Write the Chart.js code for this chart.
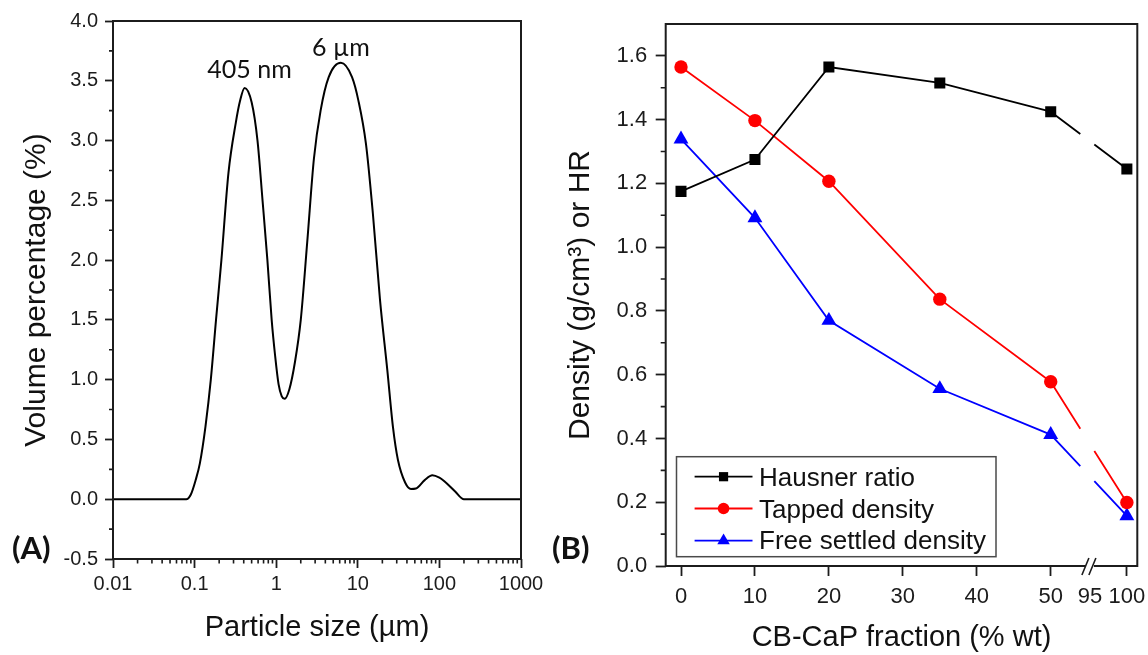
<!DOCTYPE html>
<html><head><meta charset="utf-8">
<script src="https://cdn.jsdelivr.net/npm/chart.js@4.4.0/dist/chart.umd.min.js"></script>
<style>
html,body{margin:0;padding:0;background:#fff;width:1148px;height:655px;overflow:hidden;}
#wa{position:absolute;left:0;top:0;width:545px;height:655px;}
#wb{position:absolute;left:545px;top:0;width:603px;height:655px;}
canvas{display:block;}
</style></head><body>
<div id="wa"><canvas id="ca" width="545" height="655"></canvas></div>
<div id="wb"><canvas id="cb" width="603" height="655"></canvas></div>
<script>
// ---------- Panel A data ----------
const particleSizes = [0.01, 0.079, 0.09, 0.103, 0.116, 0.136, 0.158, 0.183, 0.213, 0.26, 0.32, 0.36, 0.41, 0.5, 0.59, 0.68, 0.78, 0.88, 0.97, 1.07, 1.17, 1.27, 1.45, 1.7, 2.0, 2.4, 2.9, 3.5, 4.4, 6.2, 8.5, 10.2, 12.6, 15.3, 18.7, 23, 27, 31, 38, 44.8, 51.5, 66, 82, 100, 115, 156, 200, 1000];
const volumePercent = [0, 0, 0.04, 0.16, 0.30, 0.61, 1.0, 1.5, 2.0, 2.73, 3.15, 3.33, 3.44, 3.32, 3.0, 2.5, 2.0, 1.5, 1.2, 0.96, 0.86, 0.84, 0.92, 1.15, 1.5, 2.15, 2.85, 3.25, 3.53, 3.65, 3.53, 3.33, 2.97, 2.39, 1.67, 1.08, 0.60, 0.33, 0.14, 0.086, 0.09, 0.16, 0.20, 0.18, 0.15, 0.065, 0, 0];
const xTicksA = [0.01, 0.1, 1, 10, 100, 1000];
const xTickLabelsA = ["0.01", "0.1", "1", "10", "100", "1000"];
const xMinorA = [2,3,4,5,6,7,8,9].flatMap(m => [0.01, 0.1, 1, 10, 100].map(d => m * d));
const yTicksA = [-0.5, 0, 0.5, 1, 1.5, 2, 2.5, 3, 3.5, 4];
const yTickLabelsA = ["-0.5", "0.0", "0.5", "1.0", "1.5", "2.0", "2.5", "3.0", "3.5", "4.0"];
const yMinorA = [-0.25, 0.25, 0.75, 1.25, 1.75, 2.25, 2.75, 3.25, 3.75];
const peakLabels = ["405 nm", "6 µm"];
const peakSizes = [0.471, 6.2];
const peakLabelLevels = [3.52, 3.71];

// ---------- Panel B data ----------
const fractions = [0, 10, 20, 35, 50, 100];
const hausnerRatio = [1.175, 1.275, 1.565, 1.515, 1.425, 1.245];
const tappedDensity = [1.565, 1.397, 1.207, 0.837, 0.578, 0.199];
const freeSettledDensity = [1.339, 1.092, 0.770, 0.556, 0.412, 0.157];
const seriesNames = ["Hausner ratio", "Tapped density", "Free settled density"];
const xTicksB = [0, 10, 20, 30, 40, 50, 95, 100];
const xTickLabelsB = ["0", "10", "20", "30", "40", "50", "95", "100"];
const yTicksB = [0, 0.2, 0.4, 0.6, 0.8, 1.0, 1.2, 1.4, 1.6];
const yTickLabelsB = ["0.0", "0.2", "0.4", "0.6", "0.8", "1.0", "1.2", "1.4", "1.6"];
const yMinorB = [0.1, 0.3, 0.5, 0.7, 0.9, 1.1, 1.3, 1.5];

// broken x axis: values above the break are shifted left
const BREAK_AT = 50, BREAK_SHIFT = 39.7;
const toAxis = v => v > BREAK_AT ? v - BREAK_SHIFT : v;
const GAP0 = 54.0, GAP1 = 55.9;   // axis units of the line gap at the break

const FONT = "'Liberation Sans', Arial, sans-serif";
const AXC = '#1c1c1c';

// ---------- plugins ----------
const framePlugin = {
  id: 'frame',
  afterDraw(chart) {
    const {ctx, chartArea: a} = chart;
    ctx.save(); ctx.strokeStyle = AXC; ctx.lineWidth = 2;
    ctx.strokeRect(a.left, a.top, a.right - a.left, a.bottom - a.top);
    ctx.restore();
  }
};
const minorPlugin = {
  id: 'minorTicks',
  afterDraw(chart, args, o) {
    const {ctx, chartArea: a, scales} = chart;
    ctx.save(); ctx.strokeStyle = AXC; ctx.lineWidth = 1.6; ctx.beginPath();
    (o.x || []).forEach(v => { const p = scales.x.getPixelForValue(v); ctx.moveTo(p, a.bottom); ctx.lineTo(p, a.bottom + o.xLen); });
    (o.y || []).forEach(v => { const p = scales.y.getPixelForValue(v); ctx.moveTo(a.left, p); ctx.lineTo(a.left - o.yLen, p); });
    ctx.stroke(); ctx.restore();
  }
};
const textPlugin = {
  id: 'texts',
  afterDraw(chart, args, o) {
    const {ctx, scales} = chart;
    ctx.save();
    (o.items || []).forEach(t => {
      ctx.font = t.font; ctx.fillStyle = '#111';
      ctx.textAlign = t.align || 'left'; ctx.textBaseline = t.baseline || 'alphabetic';
      const x = t.dataX !== undefined ? scales.x.getPixelForValue(t.dataX) : t.x;
      const y = t.dataY !== undefined ? scales.y.getPixelForValue(t.dataY) : t.y;
      ctx.fillText(t.text, x, y);
    });
    ctx.restore();
  }
};
function marker(ctx, style, x, y, r, color) {
  ctx.fillStyle = color; ctx.beginPath();
  if (style === 'rect') { const s = r * Math.SQRT1_2; ctx.rect(x - s, y - s, 2 * s, 2 * s); }
  else if (style === 'circle') { ctx.arc(x, y, r, 0, Math.PI * 2); }
  else if (style === 'triangle') {
    ctx.moveTo(x, y - r); ctx.lineTo(x + r * Math.sin(Math.PI * 2 / 3), y - r * Math.cos(Math.PI * 2 / 3));
    ctx.lineTo(x + r * Math.sin(Math.PI * 4 / 3), y - r * Math.cos(Math.PI * 4 / 3)); ctx.closePath();
  }
  ctx.fill();
}
const legendPlugin = {
  id: 'boxLegend',
  afterDraw(chart, args, o) {
    const {ctx} = chart;
    ctx.save();
    ctx.strokeStyle = '#4a4a4a'; ctx.lineWidth = 1.5;
    ctx.strokeRect(o.x, o.y, o.w, o.h);
    chart.data.datasets.forEach((ds, i) => {
      const cy = o.rowY[i];
      ctx.strokeStyle = ds.borderColor; ctx.lineWidth = ds.borderWidth;
      ctx.beginPath(); ctx.moveTo(o.lx0, cy); ctx.lineTo(o.lx1, cy); ctx.stroke();
      marker(ctx, ds.pointStyle, (o.lx0 + o.lx1) / 2, cy, o.r[i], ds.backgroundColor);
      ctx.font = o.font; ctx.fillStyle = '#111'; ctx.textAlign = 'left'; ctx.textBaseline = 'alphabetic';
      ctx.fillText(ds.label, o.tx, o.baseY[i]);
    });
    ctx.restore();
  }
};
const breakPlugin = {
  id: 'axisBreak',
  afterDraw(chart, args, o) {
    const {ctx, chartArea: a, scales} = chart;
    const cx = scales.x.getPixelForValue(o.at);
    const y = a.bottom;
    ctx.save();
    ctx.fillStyle = '#fff'; ctx.fillRect(cx - 4, y - 3, 8, 6);
    ctx.strokeStyle = AXC; ctx.lineWidth = 1.6; ctx.beginPath();
    ctx.moveTo(cx - 8, y + 9); ctx.lineTo(cx - 1, y - 8);
    ctx.moveTo(cx - 1, y + 9); ctx.lineTo(cx + 6, y - 8);
    ctx.stroke(); ctx.restore();
  }
};

function fixBox(w, h) {
  return s => {
    if (w !== undefined) s.width = w;
    if (h !== undefined) s.height = h;
    s.paddingLeft = 0; s.paddingRight = 0; s.paddingTop = 0; s.paddingBottom = 0;
  };
}
const tickFontA = {family: FONT, size: 20};
const tickFontB = {family: FONT, size: 22};
const xTitleFont = {family: FONT, size: 29};
const yTitleFont = {family: FONT, size: 30};

// ---------- Chart A ----------
new Chart(document.getElementById('ca'), {
  type: 'line',
  data: {
    datasets: [{
      data: particleSizes.map((s, i) => ({x: s, y: volumePercent[i]})),
      borderColor: '#000', borderWidth: 2, pointRadius: 0, fill: false,
      cubicInterpolationMode: 'monotone'
    }]
  },
  options: {
    responsive: false, animation: false, events: [],
    layout: {padding: {left: 0, top: 21, right: 24, bottom: 0}},
    plugins: {
      legend: {display: false}, tooltip: {enabled: false},
      minorTicks: {x: xMinorA, y: yMinorA, xLen: 4.5, yLen: 4},
      texts: {items: [
        {text: peakLabels[0], dataX: peakSizes[0], dataY: peakLabelLevels[0], align: 'center', font: "25px Lato, 'Open Sans', sans-serif"},
        {text: peakLabels[1], dataX: peakSizes[1], dataY: peakLabelLevels[1], align: 'center', font: "25px Lato, 'Open Sans', sans-serif"},
        {text: '(A)', x: 12, y: 549, baseline: 'middle', font: "bold 31px Lato, 'Open Sans', sans-serif"}
      ]}
    },
    scales: {
      x: {
        type: 'logarithmic', min: 0.01, max: 1000,
        afterBuildTicks: s => { s.ticks = xTicksA.map(v => ({value: v})); },
        afterFit: fixBox(undefined, 96),
        ticks: {callback: (v, i) => xTickLabelsA[i], autoSkip: false, maxRotation: 0, font: tickFontA, color: AXC, padding: 4},
        grid: {drawOnChartArea: false, tickLength: 9, tickWidth: 1.8, tickColor: AXC},
        border: {display: false},
        title: {display: true, text: 'Particle size (µm)', font: xTitleFont, color: '#111', padding: {top: 0, bottom: 10}}
      },
      y: {
        type: 'linear', min: -0.5, max: 4.0,
        afterBuildTicks: s => { s.ticks = yTicksA.map(v => ({value: v})); },
        afterFit: fixBox(113, undefined),
        ticks: {callback: (v, i) => yTickLabelsA[i], font: tickFontA, color: AXC, padding: 7},
        grid: {drawOnChartArea: false, tickLength: 8, tickWidth: 1.8, tickColor: AXC},
        border: {display: false},
        title: {display: true, text: 'Volume percentage (%)', font: yTitleFont, color: '#111', padding: {top: 19, bottom: 0}}
      }
    }
  },
  plugins: [framePlugin, minorPlugin, textPlugin]
});

// ---------- Chart B ----------
function gapDash(ctx) {
  if (ctx.p0DataIndex !== fractions.length - 2) return undefined;
  const xs = ctx.chart.scales.x;
  const g0 = xs.getPixelForValue(GAP0), g1 = xs.getPixelForValue(GAP1);
  const p0 = ctx.p0, p1 = ctx.p1;
  const len = Math.hypot(p1.x - p0.x, p1.y - p0.y);
  const t0 = (g0 - p0.x) / (p1.x - p0.x), t1 = (g1 - p0.x) / (p1.x - p0.x);
  return [t0 * len, (t1 - t0) * len, len * 2];
}
function series(label, values, color, style, r) {
  return {
    label, data: fractions.map((f, i) => ({x: toAxis(f), y: values[i]})),
    borderColor: color, backgroundColor: color, borderWidth: 1.8,
    pointStyle: style, pointRadius: r, pointBorderWidth: 0, pointBackgroundColor: color,
    tension: 0, segment: {borderDash: gapDash}
  };
}
new Chart(document.getElementById('cb'), {
  type: 'line',
  data: {
    datasets: [
      series(seriesNames[0], hausnerRatio, '#000000', 'rect', 7.8),
      series(seriesNames[1], tappedDensity, '#ff0000', 'circle', 6.7),
      series(seriesNames[2], freeSettledDensity, '#0000ff', 'triangle', 8.6)
    ]
  },
  options: {
    responsive: false, animation: false, events: [],
    layout: {padding: {left: 0, top: 24, right: 10.7, bottom: 0}},
    plugins: {
      legend: {display: false}, tooltip: {enabled: false},
      minorTicks: {y: yMinorB, yLen: 5},
      axisBreak: {at: 55.3},
      boxLegend: {x: 131.5, y: 456.7, w: 319.5, h: 100, rowY: [476.7, 508.5, 540.7], baseY: [485.5, 517.5, 549.3],
        lx0: 149.6, lx1: 207.5, tx: 214, r: [6.5, 5.8, 7.2], font: `26px ${FONT}`},
      texts: {items: [
        {text: '(B)', x: 7, y: 549, baseline: 'middle', font: "bold 31px Lato, 'Open Sans', sans-serif"}
      ]}
    },
    scales: {
      x: {
        type: 'linear', min: -2.07, max: 61.71,
        afterBuildTicks: s => { s.ticks = xTicksB.map(v => ({value: toAxis(v)})); },
        afterFit: fixBox(undefined, 89),
        ticks: {callback: (v, i) => xTickLabelsB[i], autoSkip: false, maxRotation: 0, font: tickFontB, color: AXC, padding: 8},
        grid: {drawOnChartArea: false, tickLength: 10, tickWidth: 1.8,
          tickColor: c => (xTicksB[c.index] === 95 ? 'rgba(0,0,0,0)' : AXC)},
        border: {display: false},
        title: {display: true, text: 'CB-CaP fraction (% wt)', font: xTitleFont, color: '#111', padding: {top: 0, bottom: 0}}
      },
      y: {
        type: 'linear', min: 0, max: 1.7,
        afterBuildTicks: s => { s.ticks = yTicksB.map(v => ({value: v})); },
        afterFit: fixBox(120.7, undefined),
        ticks: {callback: (v, i) => yTickLabelsB[i], font: tickFontB, color: AXC, padding: 8.5},
        grid: {drawOnChartArea: false, tickLength: 10, tickWidth: 1.8, tickColor: AXC},
        border: {display: false},
        title: {display: true, text: 'Density (g/cm³) or HR', font: yTitleFont, color: '#111', padding: {top: 18, bottom: 0}}
      }
    }
  },
  plugins: [framePlugin, minorPlugin, legendPlugin, breakPlugin, textPlugin]
});
</script>
</body></html>
